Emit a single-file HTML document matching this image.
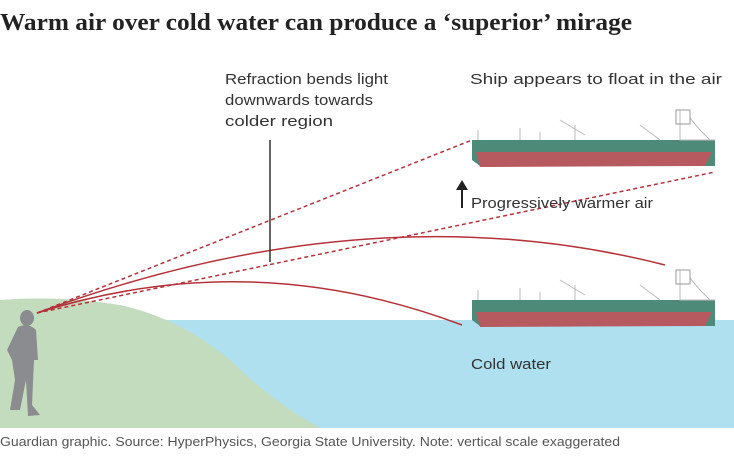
<html><body style="margin:0;background:#fff">
<svg width="734" height="460" viewBox="0 0 734 460" xmlns="http://www.w3.org/2000/svg" font-family="Liberation Sans, sans-serif">
<rect width="734" height="460" fill="#fff"/>
<text x="0" y="30" font-family="Liberation Serif, serif" font-weight="bold" font-size="24" fill="#222" textLength="632" lengthAdjust="spacingAndGlyphs">Warm air over cold water can produce a ‘superior’ mirage</text>
<path d="M150 320 H734 V428 H150 Z" fill="#aee0ef"/>
<path d="M0 300 Q60 295 120 305 Q180 318 230 360 Q270 400 320 428 H0 Z" fill="#c3dcbd"/>
<rect x="0" y="428" width="734" height="32" fill="#fff"/>
<g fill="#8a8c8f">
<ellipse cx="27" cy="318" rx="7" ry="8"/>
<path d="M18 327 Q28 322 36 330 L38 360 L34 360 L32 405 L40 415 L28 416 L26 380 L20 410 L10 410 L15 380 L12 360 L7 350 Z"/>
</g>
<g fill="none" stroke="#b5323a" stroke-width="1.5">
<path d="M37 313 Q370 190 665 265"/>
<path d="M37 313 Q250 245 462 325"/>
<path d="M37 313 L472 140" stroke-dasharray="4 3"/>
<path d="M37 313 L715 172" stroke-dasharray="4 3"/>
</g>
<line x1="270" y1="140" x2="270" y2="262" stroke="#333" stroke-width="1.5"/>
<g id="ship">
<path d="M472 140 L715 140 L715 166 L700 166 L700 160 L480 166 L472 160 Z" fill="#4e8a78"/>
<path d="M476 152 L712 152 L705 166 L480 167 Z" fill="#b75a5f"/>
<path d="M478 140 V130 M520 140 V128 M540 140 V132 M575 140 V125 M560 120 L585 135 M640 125 L660 140 M680 110 V140 L715 140 M690 118 L700 130 L710 140" stroke="#bbb" fill="none"/>
<rect x="676" y="110" width="14" height="14" fill="none" stroke="#999"/>
</g>
<use href="#ship" transform="translate(0,160)"/>
<line x1="462" y1="208" x2="462" y2="188" stroke="#222" stroke-width="2"/>
<path d="M456 190 L462 180 L468 190 Z" fill="#222"/>
<g font-size="15" fill="#333" lengthAdjust="spacingAndGlyphs">
<text x="225" y="84" textLength="163" lengthAdjust="spacingAndGlyphs">Refraction bends light</text>
<text x="225" y="105" textLength="148" lengthAdjust="spacingAndGlyphs">downwards towards</text>
<text x="225" y="126" textLength="108" lengthAdjust="spacingAndGlyphs">colder region</text>
<text x="470" y="84" textLength="252" lengthAdjust="spacingAndGlyphs">Ship appears to float in the air</text>
<text x="471" y="208" textLength="182" lengthAdjust="spacingAndGlyphs">Progressively warmer air</text>
<text x="471" y="369" textLength="80" lengthAdjust="spacingAndGlyphs">Cold water</text>
</g>
<text x="0" y="446" font-size="12.5" fill="#555" textLength="620" lengthAdjust="spacingAndGlyphs">Guardian graphic. Source: HyperPhysics, Georgia State University. Note: vertical scale exaggerated</text>
</svg>
</body></html>
